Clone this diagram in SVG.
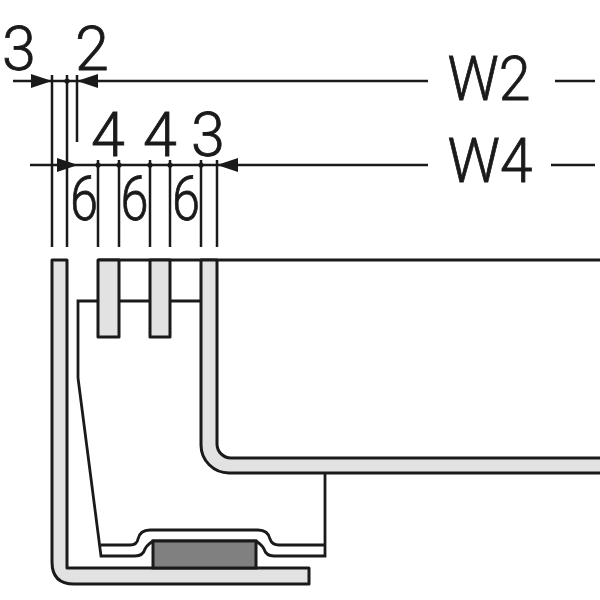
<svg xmlns="http://www.w3.org/2000/svg" width="600" height="600" viewBox="0 0 600 600">
<style>
.l{fill:none;stroke:#1a1a1a;stroke-width:2.8}
.d{fill:none;stroke:#1a1a1a;stroke-width:2.5}
.m{fill:#e2e2e2;stroke:#1a1a1a;stroke-width:3;stroke-linejoin:round}
.n{fill:#1a1a1a;stroke:#1a1a1a;stroke-width:0.8;font-family:Roboto,"Liberation Sans",sans-serif;font-weight:300;font-size:61px;text-anchor:middle}
.dot{fill:#1a1a1a}
</style>
<defs>
<marker id="a" markerUnits="userSpaceOnUse" markerWidth="22" markerHeight="14" refX="21" refY="7" orient="auto-start-reverse"><path d="M0 0L21 7L0 14Z" fill="#1a1a1a"/></marker>
</defs>
<rect width="600" height="600" fill="#fff"/>
<g id="part-outer">
<path class="m" d="M52 260H67V568H309V584H74Q52 584 52 562Z"/>
</g>
<g id="part-inner">
<path class="l" d="M78 378V301H98M119 301H150M170 301H201M78 378L101 556H135Q143 556 145 549Q147 545 153 541H256Q262 545 264 549Q266 556 274 556H325V473"/>
<path class="l" d="M101 545H130Q137 545 138 539Q140 530 150 530H258Q268 530 270 539Q272 545 279 545H325"/>
<rect x="153" y="541" width="103" height="27" fill="#808080" stroke="#1a1a1a" stroke-width="3"/>
</g>
<g id="part-top">
<path class="l" d="M98 260H600"/>
<rect class="m" x="98" y="260" width="21" height="77"/>
<rect class="m" x="150" y="260" width="20" height="77"/>
<path class="m" d="M201 260V445A28 28 0 0 0 229 473H602V458H231A14 14 0 0 1 217 444V260Z"/>
</g>
<g id="connectors">
<path class="d" d="M52 75V247M67 75V247M77 75V142M98 160V247M119 160V247M150 160V247M170 160V247M201 160V247M217 160V247"/>
<path class="d" d="M13 81H52" marker-end="url(#a)"/>
<path class="d" d="M52 81H77"/>
<path class="d" d="M428 81H77" marker-end="url(#a)"/>
<path class="d" d="M30 165H78" marker-end="url(#a)"/>
<path class="d" d="M78 165H217"/>
<path class="d" d="M428 165H217" marker-end="url(#a)"/>
<path class="d" d="M555 81H595M551 165H595"/>
<circle class="dot" cx="67" cy="81" r="2.6"/>
<circle class="dot" cx="98" cy="165" r="2.6"/>
<circle class="dot" cx="119" cy="165" r="2.6"/>
<circle class="dot" cx="150" cy="165" r="2.6"/>
<circle class="dot" cx="170" cy="165" r="2.6"/>
<circle class="dot" cx="201" cy="165" r="2.6"/>
</g>
<g id="labels">
<text class="n" x="19" y="70">3</text>
<text class="n" x="92" y="70">2</text>
<text class="n" x="108" y="156">4</text>
<text class="n" x="160" y="156">4</text>
<text class="n" x="208" y="156">3</text>
<text class="n" x="84" y="220" textLength="28" lengthAdjust="spacingAndGlyphs">6</text>
<text class="n" x="134.500" y="220" textLength="28" lengthAdjust="spacingAndGlyphs">6</text>
<text class="n" x="186" y="220" textLength="28" lengthAdjust="spacingAndGlyphs">6</text>
<text class="n" x="489" y="100" textLength="83" lengthAdjust="spacingAndGlyphs">W2</text>
<text class="n" x="490" y="182" textLength="85" lengthAdjust="spacingAndGlyphs">W4</text>
</g>
</svg>
